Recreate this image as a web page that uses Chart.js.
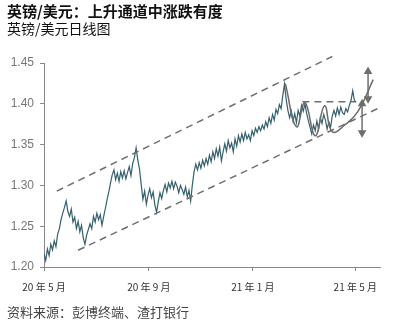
<!DOCTYPE html>
<html>
<head>
<meta charset="utf-8">
<script src="https://cdn.jsdelivr.net/npm/chart.js@4.4.1/dist/chart.umd.min.js"></script>
<style>
  body { margin: 0; background: #fff; }
  #wrap { position: relative; width: 398px; height: 325px; overflow: hidden; font-family: "Noto Sans CJK SC", sans-serif; }
  #wrap canvas { position: absolute; left: 0; top: 0; }
  .txt { position: absolute; left: 7px; white-space: nowrap; line-height: 1; }
  #t1 { top: 3px; font-size: 15px; font-weight: bold; color: #111; }
  #t2 { top: 21px; font-size: 14px; color: #111; }
  #src { top: 305px; font-size: 13px; color: #444; }
</style>
</head>
<body>
<div id="wrap">
  <canvas id="fxChart" width="398" height="325"></canvas>
  <div class="txt" id="t1">英镑/美元：上升通道中涨跌有度</div>
  <div class="txt" id="t2">英镑/美元日线图</div>
  <div class="txt" id="src">资料来源：彭博终端、渣打银行</div>
</div>
<script>
// x axis = days since start of chart (mid-May 2020), one value every 2 days
const dayStep = 2;
const gbpusd = [
  1.216, 1.208, 1.222, 1.214, 1.228, 1.221, 1.232, 1.225, 1.240, 1.247,
  1.258, 1.266, 1.273, 1.281, 1.268, 1.262, 1.271, 1.255, 1.261, 1.247,
  1.256, 1.243, 1.251, 1.236, 1.228, 1.239, 1.246, 1.253, 1.247, 1.262,
  1.255, 1.266, 1.258, 1.264, 1.251, 1.262, 1.272, 1.283, 1.292, 1.303,
  1.313, 1.319, 1.307, 1.315, 1.305, 1.317, 1.309, 1.318, 1.308, 1.316,
  1.323, 1.312, 1.327, 1.334, 1.346, 1.331, 1.320, 1.301, 1.283, 1.293,
  1.277, 1.288, 1.296, 1.285, 1.292, 1.276, 1.267, 1.280, 1.291, 1.284,
  1.294, 1.301, 1.292, 1.303, 1.297, 1.305, 1.296, 1.304, 1.299, 1.291,
  1.300, 1.295, 1.289, 1.298, 1.286, 1.294, 1.281, 1.301, 1.317, 1.326,
  1.319, 1.328, 1.321, 1.331, 1.324, 1.333, 1.326, 1.337, 1.329, 1.341,
  1.333, 1.345, 1.336, 1.347, 1.330, 1.341, 1.351, 1.342, 1.355, 1.346,
  1.352, 1.341, 1.357, 1.348, 1.361, 1.353, 1.363, 1.355, 1.365, 1.357,
  1.362, 1.355, 1.367, 1.361, 1.370, 1.365, 1.372, 1.367, 1.374, 1.369,
  1.378, 1.372, 1.383, 1.376, 1.387, 1.380, 1.393, 1.388, 1.399, 1.394,
  1.410, 1.424, 1.405, 1.392, 1.383, 1.391, 1.379, 1.388, 1.377, 1.392,
  1.385, 1.398, 1.391, 1.400, 1.388, 1.379, 1.371, 1.363, 1.374, 1.367,
  1.379, 1.369, 1.383, 1.376, 1.387, 1.380, 1.369, 1.378, 1.371, 1.385,
  1.392, 1.385, 1.395, 1.387, 1.396, 1.389, 1.387, 1.394, 1.390, 1.398,
  1.404, 1.416, 1.404, 1.402
];

const tickDays = [0, 123, 245, 365];
const tickLabels = ['20 年 5 月', '20 年 9 月', '21 年 1 月', '21 年 5 月'];
const yTicks = [1.20, 1.25, 1.30, 1.35, 1.40, 1.45];

// channel and pattern annotations, in [day, value]
const upperChannel = [[15, 1.293], [338, 1.458]];
const lowerChannel = [[40, 1.2205], [391, 1.394]];
const neckLine = [[303, 1.4026], [366, 1.4026]];
const wavePath = [[283, 1.4247], [296, 1.3718], [306, 1.4013], [318, 1.3608], [329, 1.3977],
                  [338, 1.3657], [353, 1.3743], [368, 1.3903], [386, 1.4296]];
const upArrow = [[380, 1.4063], [380, 1.4395]];
const downArrow = [[373, 1.3644], [373, 1.400]];

const toXY = arr => arr.map(p => ({ x: p[0], y: p[1] }));
const priceData = gbpusd.map((v, i) => ({ x: i * dayStep, y: v }));

const annoColor = '#6f6f6f';
const dashed = pts => ({
  data: toXY(pts), borderColor: annoColor, borderWidth: 1.5, borderDash: [7, 5],
  pointRadius: 0, clip: false
});
const arrow = pts => ({
  data: toXY(pts), borderColor: annoColor, borderWidth: 1.5,
  pointStyle: 'triangle', pointRadius: 3.5, rotation: [180, 0],
  pointBackgroundColor: annoColor, pointBorderColor: annoColor, clip: false
});

const ctx = document.getElementById('fxChart').getContext('2d');
new Chart(ctx, {
  type: 'line',
  data: {
    datasets: [
      dashed(upperChannel),
      dashed(lowerChannel),
      dashed(neckLine),
      { data: toXY(wavePath), borderColor: '#6a6a6a', borderWidth: 1.5, tension: 0.45, pointRadius: 0, clip: false },
      arrow(upArrow),
      arrow(downArrow),
      { data: priceData, borderColor: '#35606e', borderWidth: 1.2, pointRadius: 0, tension: 0 }
    ]
  },
  options: {
    responsive: false,
    animation: false,
    layout: { padding: { top: 63, right: 18, bottom: 28, left: 0 } },
    plugins: { legend: { display: false }, tooltip: { enabled: false } },
    scales: {
      x: {
        type: 'linear', min: 0, max: 394,
        afterBuildTicks: s => { s.ticks = tickDays.map(v => ({ value: v })); },
        afterFit: s => { s.height = 30; },
        ticks: {
          autoSkip: false, maxRotation: 0, padding: 10, color: '#333',
          font: { size: 10, family: '"Noto Sans CJK SC", sans-serif' },
          callback: (v, i) => tickLabels[i]
        },
        grid: { drawOnChartArea: false, drawTicks: true, tickLength: 4, color: '#888' },
        border: { color: '#888', width: 1 }
      },
      y: {
        min: 1.20, max: 1.45,
        afterBuildTicks: s => { s.ticks = yTicks.map(v => ({ value: v })); },
        afterFit: s => { s.width = 44; },
        ticks: {
          padding: 6, color: '#777',
          font: { size: 12, family: '"Liberation Sans", Arial, sans-serif' },
          callback: v => v.toFixed(2)
        },
        grid: { drawOnChartArea: false, drawTicks: true, tickLength: 4, color: '#888' },
        border: { color: '#888', width: 1 }
      }
    }
  }
});
</script>
</body>
</html>
